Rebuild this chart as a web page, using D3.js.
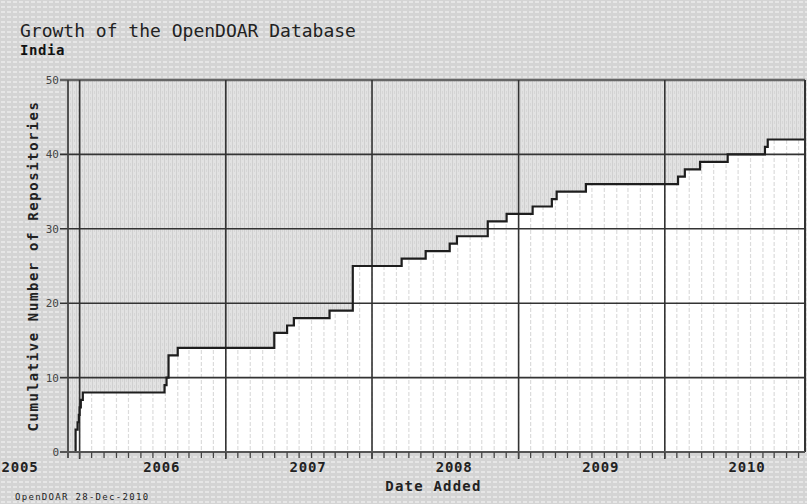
<!DOCTYPE html>
<html>
<head>
<meta charset="utf-8">
<script src="https://cdn.jsdelivr.net/npm/d3@7"></script>
<style>
  html, body { margin: 0; padding: 0; background: #fff; }
  svg { display: block; }
  text { font-family: "DejaVu Sans Mono", "Liberation Mono", monospace; }
</style>
</head>
<body>
<svg id="chart" width="807" height="504"></svg>
<script>
// ---------- data ----------
const title = "Growth of the OpenDOAR Database";
const subtitle = "India";
const yTitle = "Cumulative Number of Repositories";
const xTitle = "Date Added";
const footer = "OpenDOAR 28-Dec-2010";

const stepDates = ["2005-05-31","2005-06-05","2005-06-08","2005-06-10","2005-06-13","2005-06-18",
  "2006-01-08","2006-01-13","2006-01-18","2006-02-10","2006-10-09","2006-11-10","2006-11-27",
  "2007-02-24","2007-04-23","2007-08-23","2007-10-22","2007-12-21","2008-01-08","2008-03-25",
  "2008-05-11","2008-07-15","2008-09-01","2008-09-13","2008-11-25","2009-07-13","2009-07-30",
  "2009-09-06","2009-11-14","2010-02-15","2010-02-22"];
const stepCounts = [3,4,5,6,7,8,9,10,13,14,16,17,18,19,25,26,27,28,29,31,32,33,34,35,36,37,38,39,40,41,42];

const domainDates = ["2005-05-12","2010-05-26"];
const yDomain = [0, 50];
const yTicks = [0,10,20,30,40,50];
const yearLabels = ["2005","2006","2007","2008","2009","2010"];
const majorDates = ["2005-06-10","2006-06-10","2007-06-10","2008-06-10","2009-06-10"];

// ---------- setup ----------
const parse = d3.utcParse("%Y-%m-%d");
const W = 807, H = 504;
const M = {left: 68, right: 2, top: 80, bottom: 52};
const svg = d3.select("#chart");
const defs = svg.append("defs");

// outer background texture
const pbg = defs.append("pattern").attr("id","bgPat").attr("patternUnits","userSpaceOnUse")
  .attr("width",6).attr("height",5);
pbg.append("rect").attr("width",6).attr("height",5).attr("fill","#d4d4d4");
pbg.append("rect").attr("x",1).attr("y",1).attr("width",4).attr("height",2).attr("fill","#e6e6e6");

// plot (gray) texture
const pg = defs.append("pattern").attr("id","plotPat").attr("patternUnits","userSpaceOnUse")
  .attr("width",4).attr("height",6);
pg.append("rect").attr("width",4).attr("height",6).attr("fill","#e2e2e2");
pg.append("rect").attr("x",0).attr("y",0).attr("width",1).attr("height",6).attr("fill","#d0d0d0");
pg.append("rect").attr("x",2).attr("y",1).attr("width",1).attr("height",3).attr("fill","#d6d6d6");

svg.append("rect").attr("width",W).attr("height",H).attr("fill","url(#bgPat)");

const x = d3.scaleUtc().domain(domainDates.map(parse)).range([M.left, W - M.right]);
const y = d3.scaleLinear().domain(yDomain).range([H - M.bottom, M.top]);

const [d0, d1] = x.domain();
const pts = [{d: d0, v: 0}]
  .concat(stepDates.map((s, i) => ({d: parse(s), v: stepCounts[i]})))
  .concat([{d: d1, v: stepCounts[stepCounts.length - 1]}]);

// gray plot background
svg.append("rect").attr("x", x.range()[0]).attr("y", y(50))
  .attr("width", x.range()[1] - x.range()[0]).attr("height", y(0) - y(50))
  .attr("fill","url(#plotPat)");

// white area below the curve
const area = d3.area().curve(d3.curveStepAfter)
  .x(p => x(p.d)).y0(y(0)).y1(p => y(p.v));
svg.append("path").datum(pts).attr("d", area).attr("fill","#ffffff");

// monthly light lines (clipped to white area)
defs.append("clipPath").attr("id","belowClip").append("path").datum(pts).attr("d", area);
const monthTicks = d3.utcMonth.range(d3.utcMonth.floor(d0), d1)
  .map(m => d3.utcDay.offset(m, 9)).filter(t => t > d0 && t < d1);
svg.append("g").attr("clip-path","url(#belowClip)")
  .selectAll("line").data(monthTicks).join("line")
  .attr("x1", d => x(d)).attr("x2", d => x(d))
  .attr("y1", y(50)).attr("y2", y(0))
  .attr("stroke","#dcdcdc").attr("stroke-width",1.2)
  .attr("stroke-dasharray","4,2");

// horizontal gridlines
svg.append("g").selectAll("line").data(yTicks.filter(t => t > 0)).join("line")
  .attr("x1", x.range()[0] - 8).attr("x2", x.range()[1])
  .attr("y1", d => y(d)).attr("y2", d => y(d))
  .attr("stroke", d => d === 50 ? "#666" : "#333").attr("stroke-width", d => d === 50 ? 2.5 : 1.6);

// major vertical gridlines
svg.append("g").selectAll("line").data(majorDates.map(parse)).join("line")
  .attr("x1", d => x(d)).attr("x2", d => x(d))
  .attr("y1", y(50)).attr("y2", y(0) + 7)
  .attr("stroke","#333").attr("stroke-width",1.6);

// step line
const line = d3.line().curve(d3.curveStepAfter).x(p => x(p.d)).y(p => y(p.v));
svg.append("path").datum(pts).attr("d", line)
  .attr("fill","none").attr("stroke","#1e1e1e").attr("stroke-width",2.2)
  .attr("stroke-linejoin","miter");

// axes frame
svg.append("line").attr("x1", x.range()[0]).attr("x2", x.range()[0])
  .attr("y1", y(50)).attr("y2", y(0) + 6).attr("stroke","#444").attr("stroke-width",1.8);
svg.append("line").attr("x1", x.range()[1]).attr("x2", x.range()[1])
  .attr("y1", y(50)).attr("y2", y(0)).attr("stroke","#333").attr("stroke-width",2);
svg.append("line").attr("x1", x.range()[0] - 8).attr("x2", x.range()[1])
  .attr("y1", y(0)).attr("y2", y(0)).attr("stroke","#555").attr("stroke-width",2);

// x minor ticks
svg.append("g").selectAll("line").data(monthTicks).join("line")
  .attr("x1", d => x(d)).attr("x2", d => x(d))
  .attr("y1", y(0)).attr("y2", y(0) + 6)
  .attr("stroke","#444").attr("stroke-width",1.3);

// y tick labels
svg.append("g").selectAll("text").data(yTicks).join("text")
  .attr("x", x.range()[0] - 9).attr("y", d => y(d) + 4)
  .attr("text-anchor","end").attr("font-size", 11).attr("fill","#444")
  .text(d => d);

// x year labels (the first one is kept inside the picture)
svg.append("g").selectAll("text").data(yearLabels).join("text")
  .attr("x", d => Math.max(x(parse(d + "-01-01")), 20)).attr("y", 472)
  .attr("text-anchor","middle").attr("font-size", 14).attr("font-weight","bold")
  .attr("letter-spacing", 0.8).attr("fill","#222")
  .text(d => d);

// titles
svg.append("text").attr("x", 20).attr("y", 37).attr("font-size", 18)
  .attr("fill","#222").text(title);
svg.append("text").attr("x", 20).attr("y", 55).attr("font-size", 14)
  .attr("font-weight","bold").attr("letter-spacing", 0.6).attr("fill","#111").text(subtitle);
svg.append("text").attr("transform", `translate(38,${(y(0)+y(50))/2}) rotate(-90)`)
  .attr("text-anchor","middle").attr("font-size", 14).attr("font-weight","bold")
  .attr("letter-spacing", 1.6).attr("fill","#222").text(yTitle);
svg.append("text").attr("x", (x.range()[0] + x.range()[1]) / 2 - 3).attr("y", 491)
  .attr("text-anchor","middle").attr("font-size", 14).attr("font-weight","bold")
  .attr("letter-spacing", 1.2).attr("fill","#222").text(xTitle);
svg.append("text").attr("x", 15).attr("y", 500).attr("font-size", 9)
  .attr("letter-spacing", 1.3).attr("fill","#222").text(footer);
</script>
</body>
</html>
